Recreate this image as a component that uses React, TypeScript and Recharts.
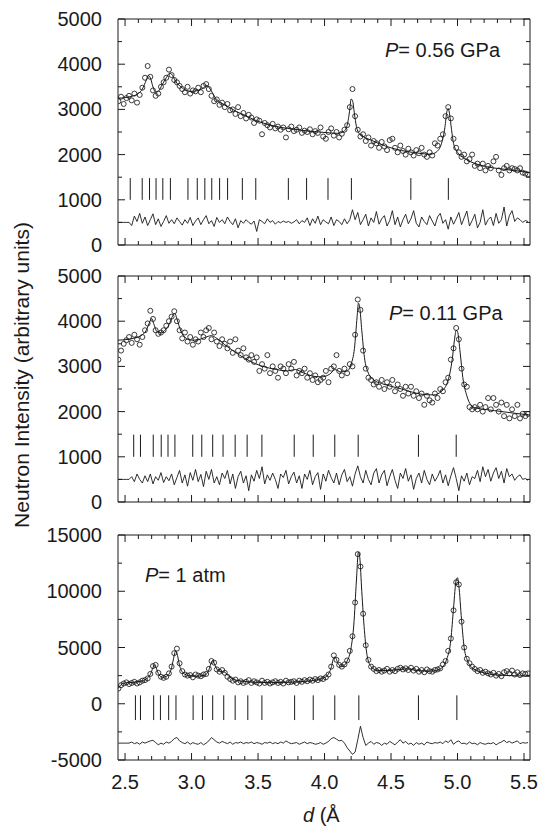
import React from 'react';
import { ComposedChart, Scatter, Line, XAxis, YAxis, ReferenceLine } from 'recharts';

const FONT = '"Liberation Sans", Arial, Helvetica, sans-serif';
const INK = '#1a1a1a';
const X_DOMAIN: [number, number] = [2.447, 5.545];

const xTicks = [2.5, 2.6, 2.7, 2.8, 2.9, 3.0, 3.1, 3.2, 3.3, 3.4, 3.5, 3.6, 3.7, 3.8, 3.9, 4.0,
  4.1, 4.2, 4.3, 4.4, 4.5, 4.6, 4.7, 4.8, 4.9, 5.0, 5.1, 5.2, 5.3, 5.4, 5.5];
const yTicksLow = [0, 500, 1000, 1500, 2000, 2500, 3000, 3500, 4000, 4500, 5000];
const yTicksAtm = [-5000, -2500, 0, 2500, 5000, 7500, 10000, 12500, 15000];

// d-spacing grid of observed points (Å)
const dObs = [
  2.45, 2.47, 2.49, 2.51, 2.53, 2.55, 2.57, 2.59, 2.61, 2.63,
  2.65, 2.67, 2.69, 2.71, 2.73, 2.75, 2.77, 2.79, 2.81, 2.83,
  2.85, 2.87, 2.89, 2.91, 2.93, 2.95, 2.97, 2.99, 3.01, 3.03,
  3.05, 3.07, 3.09, 3.11, 3.13, 3.15, 3.17, 3.19, 3.21, 3.23,
  3.25, 3.27, 3.29, 3.31, 3.33, 3.35, 3.37, 3.39, 3.41, 3.43,
  3.45, 3.47, 3.49, 3.51, 3.53, 3.55, 3.57, 3.59, 3.61, 3.63,
  3.65, 3.67, 3.69, 3.71, 3.73, 3.75, 3.77, 3.79, 3.81, 3.83,
  3.85, 3.87, 3.89, 3.91, 3.93, 3.95, 3.97, 3.99, 4.01, 4.03,
  4.05, 4.07, 4.09, 4.11, 4.13, 4.15, 4.17, 4.19, 4.21, 4.23,
  4.25, 4.27, 4.29, 4.31, 4.33, 4.35, 4.37, 4.39, 4.41, 4.43,
  4.45, 4.47, 4.49, 4.51, 4.53, 4.55, 4.57, 4.59, 4.61, 4.63,
  4.65, 4.67, 4.69, 4.71, 4.73, 4.75, 4.77, 4.79, 4.81, 4.83,
  4.85, 4.87, 4.89, 4.91, 4.93, 4.95, 4.97, 4.99, 5.01, 5.03,
  5.05, 5.07, 5.09, 5.11, 5.13, 5.15, 5.17, 5.19, 5.21, 5.23,
  5.25, 5.27, 5.29, 5.31, 5.33, 5.35, 5.37, 5.39, 5.41, 5.43,
  5.45, 5.47, 5.49, 5.51, 5.53,
];

// ---------- P = 0.56 GPa ----------
const obs056 = [
  3180, 3280, 3120, 3250, 3300, 3200, 3350, 3150, 3320, 3480,
  3700, 3960, 3720, 3420, 3300, 3350, 3500, 3600, 3700, 3880,
  3760, 3650, 3600, 3520, 3450, 3380, 3500, 3350, 3420, 3400,
  3480, 3380, 3520, 3560, 3450, 3300, 3180, 3220, 3100, 3150,
  3050, 3120, 2980, 3000, 2900, 3050, 2850, 2920, 2800, 2880,
  2820, 2700, 2780, 2750, 2450, 2700, 2650, 2600, 2680, 2580,
  2620, 2550, 2600, 2380, 2560, 2620, 2520, 2550, 2600, 2480,
  2530, 2500, 2560, 2450, 2520, 2480, 2600, 2400, 2350, 2500,
  2580, 2420, 2500, 2380, 2460, 2550, 2650, 3050, 3450, 2850,
  2550, 2400, 2450, 2300, 2380, 2200, 2300, 2250, 2150, 2280,
  2180, 2100, 2320, 2350, 2150, 2050, 2200, 2080, 2000, 2130,
  2050, 1980, 2100, 2030, 2150, 2000, 1950, 2050, 1980, 2250,
  2200, 2350, 2450, 2850, 3050, 2800, 2350, 2150, 2050, 1950,
  2000, 1850, 1900, 2000, 1750, 1800, 1700, 1800, 1650, 1750,
  1700, 1850, 1950, 1650, 1550, 1700, 1750, 1650, 1700, 1680,
  1650, 1700, 1600, 1580, 1560,
];
const diff056 = [
  500, 500, 500, 500, 500, 430, 640, 520, 700, 480,
  620, 430, 560, 690, 450, 580, 410, 520, 650, 480,
  560, 470, 600, 520, 440, 560, 480, 610, 430, 530,
  600, 450, 560, 650, 470, 540, 410, 610, 500, 560,
  470, 620, 520, 450, 580, 380, 540, 480, 560, 500,
  460, 530, 300, 560, 520, 470, 580, 500, 540, 460,
  520, 490, 530, 500, 520, 480, 510, 560, 470, 540,
  500, 600, 430, 580, 480, 640, 450, 560, 510, 470,
  620, 430, 560, 520, 450, 580, 470, 560, 780, 560,
  720, 450, 560, 680, 420, 600, 500, 740, 460, 580,
  650, 420, 540, 760, 450, 620, 400, 560, 680, 470,
  580, 760, 480, 400, 620, 520, 450, 650, 530, 420,
  620, 700, 480, 560, 350, 620, 460, 580, 720, 450,
  600, 750, 420, 540, 680, 380, 500, 780, 440, 560,
  620, 430, 700, 480, 560, 840, 420, 650, 760, 520,
  600, 560, 500, 540, 520,
];
const calc056: [number, number][] = [
  [2.447, 3250], [2.5, 3260], [2.55, 3290], [2.6, 3350], [2.63, 3450], [2.66, 3650], [2.675, 3750],
  [2.69, 3700], [2.71, 3500], [2.73, 3380], [2.75, 3400], [2.78, 3550], [2.81, 3700], [2.835, 3800],
  [2.85, 3780], [2.88, 3620], [2.92, 3500], [2.96, 3420], [3.0, 3400], [3.05, 3420], [3.09, 3480],
  [3.115, 3530], [3.14, 3450], [3.18, 3250], [3.22, 3150], [3.28, 3050], [3.34, 2950], [3.4, 2870],
  [3.48, 2760], [3.56, 2680], [3.64, 2620], [3.72, 2580], [3.8, 2550], [3.88, 2520], [3.96, 2500],
  [4.04, 2480], [4.1, 2470], [4.14, 2500], [4.17, 2650], [4.19, 3000], [4.2, 3230], [4.21, 3200],
  [4.225, 2900], [4.24, 2620], [4.26, 2470], [4.29, 2400], [4.35, 2320], [4.42, 2230], [4.5, 2150],
  [4.58, 2090], [4.66, 2050], [4.74, 2020], [4.8, 2010], [4.85, 2080], [4.88, 2250], [4.905, 2600],
  [4.92, 2950], [4.93, 3020], [4.94, 2900], [4.955, 2550], [4.97, 2250], [5.0, 2050], [5.05, 1920],
  [5.1, 1840], [5.18, 1760], [5.26, 1710], [5.34, 1680], [5.42, 1650], [5.545, 1600],
];
const refl056 = [2.539, 2.629, 2.684, 2.733, 2.784, 2.841, 2.973, 3.043, 3.1, 3.152, 3.211, 3.271,
  3.382, 3.483, 3.728, 3.865, 4.026, 4.202, 4.649, 4.931];

// ---------- P = 0.11 GPa ----------
const obs011 = [
  3150, 3350, 3500, 3580, 3650, 3520, 3700, 3600, 3480, 3650,
  3800, 3950, 4230, 4050, 3800, 3720, 3750, 3800, 3900, 4000,
  4100, 4220, 4000, 3800, 3620, 3750, 3550, 3650, 3480, 3600,
  3550, 3750, 3650, 3800, 3850, 3600, 3750, 3550, 3450, 3600,
  3500, 3400, 3550, 3300, 3600, 3350, 3250, 3400, 3200, 3150,
  3250, 3100, 3200, 2900, 3050, 2950, 3250, 2850, 3000, 2900,
  2750, 3000, 2950, 2850, 3050, 2950, 3100, 2800, 2900, 2850,
  2950, 2750, 2850, 2700, 2800, 2650, 2700, 2750, 2900, 2650,
  2950, 3000, 3250, 2900, 2800, 2950, 2850, 3050, 3000, 3700,
  4480, 4250, 3350, 2950, 2750, 2700, 2600, 2650, 2550, 2700,
  2500, 2650, 2550, 2700, 2450, 2600, 2500, 2350, 2550, 2400,
  2550, 2350, 2450, 2300, 2400, 2150, 2350, 2250, 2200, 2400,
  2300, 2500, 2450, 2650, 2750, 3150, 3400, 3850, 3600, 2950,
  2600, 2550, 2100, 2050, 2100, 2050, 2150, 2000, 2100, 2300,
  2050, 2300, 2150, 2000, 2200, 1900, 2150, 1850, 2050, 1900,
  2150, 1850, 1950, 1900, 1950,
];
const diff011 = [
  500, 500, 500, 500, 500, 560, 450, 620, 500, 420,
  580, 450, 620, 400, 560, 480, 650, 430, 560, 470,
  620, 380, 540, 700, 420, 600, 350, 650, 480, 720,
  450, 610, 340, 680, 500, 720, 420, 560, 380, 640,
  520, 700, 400, 620, 300, 560, 680, 420, 580, 250,
  600, 460, 700, 520, 780, 400, 600, 480, 640, 500,
  300, 620, 540, 700, 400, 560, 660, 420, 580, 300,
  620, 500, 700, 380, 560, 650, 280, 620, 460, 700,
  540, 420, 640, 380, 600, 720, 450, 560, 350, 620,
  800, 560, 420, 700, 500, 380, 640, 740, 420, 600,
  700, 360, 560, 720, 480, 300, 640, 520, 740, 460,
  600, 280, 520, 640, 420, 700, 500, 380, 620, 460,
  560, 700, 420, 600, 360, 580, 760, 520, 250, 580,
  460, 640, 380, 560, 520, 700, 450, 780, 560, 720,
  460, 640, 760, 520, 680, 420, 740, 560, 620, 480,
  560, 600, 500, 520, 480,
];
const calc011: [number, number][] = [
  [2.447, 3580], [2.5, 3590], [2.56, 3620], [2.62, 3680], [2.66, 3800], [2.685, 3980], [2.7, 4060],
  [2.715, 3950], [2.74, 3770], [2.77, 3740], [2.8, 3800], [2.83, 3920], [2.86, 4130], [2.875, 4170],
  [2.89, 4050], [2.92, 3780], [2.96, 3620], [3.0, 3580], [3.05, 3590], [3.1, 3640], [3.15, 3680],
  [3.19, 3620], [3.25, 3480], [3.32, 3330], [3.4, 3180], [3.48, 3060], [3.56, 2980], [3.64, 2930],
  [3.72, 2900], [3.78, 2930], [3.84, 2860], [3.92, 2780], [3.98, 2770], [4.04, 2830], [4.08, 2930],
  [4.12, 2880], [4.17, 2900], [4.2, 3050], [4.225, 3400], [4.245, 4100], [4.255, 4400], [4.265, 4300],
  [4.28, 3800], [4.3, 3200], [4.33, 2850], [4.37, 2700], [4.43, 2620], [4.5, 2560], [4.58, 2500],
  [4.66, 2430], [4.74, 2380], [4.82, 2370], [4.88, 2450], [4.93, 2700], [4.96, 3150], [4.98, 3650],
  [4.99, 3800], [5.0, 3770], [5.02, 3300], [5.04, 2750], [5.07, 2350], [5.1, 2150], [5.14, 2080],
  [5.2, 2050], [5.28, 2020], [5.36, 1990], [5.44, 1960], [5.545, 1925],
];
const refl011 = [2.565, 2.616, 2.712, 2.772, 2.823, 2.875, 3.009, 3.077, 3.159, 3.237, 3.328, 3.418,
  3.529, 3.772, 3.915, 4.077, 4.253, 4.706, 4.99];

// ---------- P = 1 atm ----------
const obsAtm = [
  1350, 1650, 1800, 1900, 1750, 1850, 1950, 1800, 1900, 2050,
  2100, 2250, 2650, 3350, 3450, 2750, 2400, 2300, 2400, 2700,
  3300, 4500, 4900, 3600, 2900, 2600, 2500, 2550, 2350, 2600,
  2500, 2450, 2600, 2650, 3100, 3800, 3650, 3050, 2850, 3000,
  2750, 2400, 2200, 2050, 2150, 1900, 2000, 1850, 1950, 2100,
  1850, 2000, 1900, 1800, 2050, 1850, 1950, 1800, 1900, 2000,
  1850, 1950, 1800, 2050, 1900, 1950, 2000, 1850, 2050, 1950,
  2100, 2000, 2150, 2050, 2200, 2100, 2250, 2200, 2350, 2600,
  3300, 4300, 3900, 3450, 3300, 3500, 3850, 4700, 6000, 9000,
  13300, 12200, 8000, 5200, 3900, 3300, 3100, 2900, 3000, 2850,
  2950, 3100, 2850, 3000, 2900, 3100, 3200, 3050, 3150, 3000,
  3200, 2950, 3100, 2850, 3000, 2800, 3050, 2900, 2850, 3000,
  3050, 3150, 3500, 3800, 4700, 5800, 8300, 10800, 10600, 7300,
  5000, 4000, 3600, 3300, 3100, 2900, 3000, 2750, 2850, 2700,
  2600, 2750, 2500, 2650, 2450, 2800, 2900, 2700, 2950, 2600,
  2800, 2550, 2700, 2650, 2700,
];
const diffAtm = [
  -3500, -3500, -3500, -3500, -3500, -3400, -3550, -3450, -3600, -3400,
  -3500, -3400, -3300, -3250, -3450, -3650, -3500, -3600, -3400, -3500,
  -3350, -3100, -3000, -3300, -3450, -3550, -3400, -3600, -3450, -3550,
  -3600, -3450, -3650, -3500, -3300, -3000, -3200, -3400, -3500, -3350,
  -3450, -3550, -3400, -3600, -3450, -3500, -3400, -3550, -3450, -3500,
  -3400, -3550, -3450, -3500, -3600, -3450, -3500, -3400, -3550, -3450,
  -3550, -3400, -3500, -3300, -3450, -3550, -3500, -3450, -3600, -3500,
  -3400, -3550, -3450, -3500, -3600, -3550, -3450, -3600, -3500, -3350,
  -3100, -3000, -3150, -3300, -3250, -3500, -3900, -4200, -4500, -4300,
  -3200, -2000, -3000, -3700, -3500, -3350, -3600, -3450, -3500, -3700,
  -3500, -3600, -3350, -3500, -3650, -3400, -3200, -3500, -3350, -3600,
  -3500, -3700, -3450, -3600, -3500, -3650, -3400, -3500, -3550, -3450,
  -3500, -3400, -3550, -3300, -3450, -3200, -3600, -3400, -3300, -3550,
  -3500, -3600, -3400, -3550, -3500, -3650, -3450, -3550, -3600, -3500,
  -3550, -3450, -3650, -3500, -3400, -3250, -3450, -3350, -3500, -3400,
  -3300, -3550, -3450, -3500, -3450,
];
const calcAtm: [number, number][] = [
  [2.447, 1350], [2.47, 1700], [2.5, 1850], [2.56, 1900], [2.62, 2000], [2.66, 2200], [2.69, 2600],
  [2.71, 3200], [2.72, 3450], [2.73, 3300], [2.75, 2700], [2.78, 2350], [2.82, 2500], [2.85, 3200],
  [2.87, 4300], [2.88, 4700], [2.89, 4500], [2.91, 3400], [2.94, 2700], [2.98, 2500], [3.04, 2450],
  [3.1, 2550], [3.13, 3000], [3.15, 3700], [3.16, 3850], [3.17, 3600], [3.2, 2950], [3.23, 2850],
  [3.25, 2800], [3.28, 2450], [3.32, 2150], [3.4, 1980], [3.5, 1900], [3.6, 1880], [3.7, 1900],
  [3.8, 1950], [3.9, 2050], [3.97, 2200], [4.02, 2500], [4.05, 3200], [4.07, 4100], [4.08, 4150],
  [4.1, 3600], [4.13, 3300], [4.17, 3800], [4.2, 5000], [4.22, 7000], [4.24, 11000], [4.255, 13500],
  [4.265, 13000], [4.28, 10000], [4.3, 6500], [4.32, 4300], [4.35, 3300], [4.4, 2950], [4.48, 2950],
  [4.56, 3050], [4.62, 3100], [4.7, 2950], [4.8, 2900], [4.87, 3100], [4.92, 4000], [4.95, 5700],
  [4.97, 8500], [4.99, 11000], [5.0, 11200], [5.01, 10500], [5.03, 7500], [5.05, 5000], [5.08, 3700],
  [5.12, 3100], [5.2, 2750], [5.3, 2550], [5.4, 2500], [5.545, 2450],
];
const reflAtm = [2.578, 2.616, 2.715, 2.766, 2.828, 2.883, 3.012, 3.082, 3.159, 3.242, 3.328, 3.423,
  3.529, 3.775, 3.915, 4.077, 4.258, 4.706, 4.995];

const isMultiple = (v: number, step: number) => Math.abs(v / step - Math.round(v / step)) < 1e-6;

function BottomTick(props: any) {
  const { x, y, payload, showLabel } = props;
  const v = payload.value as number;
  const major = isMultiple(v, 0.5);
  const len = major ? 7 : 4;
  return (
    <g>
      <line x1={x} x2={x} y1={y} y2={y - len} stroke={INK} strokeWidth={1} />
      {showLabel && major ? (
        <text x={x} y={y + 29} textAnchor="middle" fontSize={20} fontFamily={FONT} fill={INK}>
          {v.toFixed(1)}
        </text>
      ) : null}
    </g>
  );
}

function TopTick(props: any) {
  const { x, y, payload } = props;
  const v = payload.value as number;
  const len = isMultiple(v, 0.5) ? 7 : 4;
  return <line x1={x} x2={x} y1={y} y2={y + len} stroke={INK} strokeWidth={1} />;
}

function LeftTick(props: any) {
  const { x, y, payload, labelStep } = props;
  const v = payload.value as number;
  const major = isMultiple(v, labelStep);
  const len = major ? 7 : 4;
  return (
    <g>
      <line x1={x} x2={x + len} y1={y} y2={y} stroke={INK} strokeWidth={1} />
      {major ? (
        <text x={x - 16} y={y + 7} textAnchor="end" fontSize={20} fontFamily={FONT} fill={INK}>
          {String(v)}
        </text>
      ) : null}
    </g>
  );
}

function RightTick(props: any) {
  const { x, y, payload, labelStep } = props;
  const v = payload.value as number;
  const len = isMultiple(v, labelStep) ? 7 : 4;
  return <line x1={x} x2={x - len} y1={y} y2={y} stroke={INK} strokeWidth={1} />;
}

const OpenCircle = (props: any) => (
  <circle cx={props.cx} cy={props.cy} r={2.5} fill="none" stroke={INK} strokeWidth={0.85} />
);

type PanelProps = {
  top: number;
  height: number;
  topH: number;
  botH: number;
  yDomain: [number, number];
  yTicks: number[];
  labelStep: number;
  obs: number[];
  diff: number[];
  calc: [number, number][];
  refl: number[];
  reflLo: number;
  reflHi: number;
  showX: boolean;
};

function Panel(p: PanelProps) {
  const obsData = dObs.map((d, i) => ({ d, v: p.obs[i] }));
  const diffData = dObs.map((d, i) => ({ d, v: p.diff[i] }));
  const calcData = p.calc.map(([d, v]) => ({ d, v }));
  return (
    <div style={{ position: 'absolute', left: 0, top: p.top, width: 540, height: p.height }}>
      <ComposedChart width={540} height={p.height} margin={{ top: 0, right: 0, bottom: 0, left: 0 }}>
        <XAxis
          xAxisId="b"
          dataKey="d"
          type="number"
          orientation="bottom"
          domain={X_DOMAIN}
          allowDataOverflow
          ticks={xTicks}
          interval={0}
          height={p.botH}
          tickSize={0}
          tickMargin={0}
          tickLine={false}
          axisLine={{ stroke: INK, strokeWidth: 1 }}
          tick={(tp: any) => <BottomTick {...tp} showLabel={p.showX} />}
        />
        <XAxis
          xAxisId="t"
          dataKey="d"
          type="number"
          orientation="top"
          domain={X_DOMAIN}
          allowDataOverflow
          ticks={xTicks}
          interval={0}
          height={p.topH}
          tickSize={0}
          tickMargin={0}
          tickLine={false}
          axisLine={{ stroke: INK, strokeWidth: 1 }}
          tick={(tp: any) => <TopTick {...tp} />}
        />
        <YAxis
          yAxisId="l"
          type="number"
          orientation="left"
          domain={p.yDomain}
          allowDataOverflow
          ticks={p.yTicks}
          interval={0}
          width={118}
          tickSize={0}
          tickMargin={0}
          tickLine={false}
          axisLine={{ stroke: INK, strokeWidth: 1 }}
          tick={(tp: any) => <LeftTick {...tp} labelStep={p.labelStep} />}
        />
        <YAxis
          yAxisId="r"
          type="number"
          orientation="right"
          domain={p.yDomain}
          allowDataOverflow
          ticks={p.yTicks}
          interval={0}
          width={10}
          tickSize={0}
          tickMargin={0}
          tickLine={false}
          axisLine={{ stroke: INK, strokeWidth: 1 }}
          tick={(tp: any) => <RightTick {...tp} labelStep={p.labelStep} />}
        />
        {p.refl.map((d) => (
          <ReferenceLine
            key={d}
            xAxisId="b"
            yAxisId="l"
            segment={[{ x: d, y: p.reflLo }, { x: d, y: p.reflHi }]}
            stroke={INK}
            strokeWidth={1}
          />
        ))}
        <Line
          data={diffData}
          xAxisId="b"
          yAxisId="l"
          dataKey="v"
          type="linear"
          stroke={INK}
          strokeWidth={0.9}
          dot={false}
          activeDot={false}
          isAnimationActive={false}
        />
        <Line
          data={calcData}
          xAxisId="b"
          yAxisId="l"
          dataKey="v"
          type="monotone"
          stroke={INK}
          strokeWidth={1}
          dot={false}
          activeDot={false}
          isAnimationActive={false}
        />
        <Scatter
          data={obsData}
          xAxisId="b"
          yAxisId="l"
          dataKey="v"
          shape={OpenCircle}
          isAnimationActive={false}
        />
      </ComposedChart>
    </div>
  );
}

export default function App() {
  return (
    <div
      style={{
        position: 'absolute',
        left: 0,
        top: 0,
        width: 540,
        height: 827,
        background: '#ffffff',
        fontFamily: FONT,
        overflow: 'hidden',
      }}
    >
      <Panel
        top={0}
        height={260}
        topH={19}
        botH={15}
        yDomain={[0, 5000]}
        yTicks={yTicksLow}
        labelStep={1000}
        obs={obs056}
        diff={diff056}
        calc={calc056}
        refl={refl056}
        reflLo={1000}
        reflHi={1480}
        showX={false}
      />
      <Panel
        top={260}
        height={255}
        topH={16}
        botH={13}
        yDomain={[0, 5000]}
        yTicks={yTicksLow}
        labelStep={1000}
        obs={obs011}
        diff={diff011}
        calc={calc011}
        refl={refl011}
        reflLo={1000}
        reflHi={1490}
        showX={false}
      />
      <Panel
        top={515}
        height={312}
        topH={20}
        botH={67}
        yDomain={[-5000, 15000]}
        yTicks={yTicksAtm}
        labelStep={5000}
        obs={obsAtm}
        diff={diffAtm}
        calc={calcAtm}
        refl={reflAtm}
        reflLo={-1450}
        reflHi={750}
        showX={true}
      />
      <svg
        width={540}
        height={827}
        style={{ position: 'absolute', left: 0, top: 0, pointerEvents: 'none' }}
      >
        <text
          transform="translate(29,375) rotate(-90)"
          textAnchor="middle"
          fontSize={21}
          fontFamily={FONT}
          fill={INK}
        >
          Neutron Intensity (arbitrary units)
        </text>
        <text x={303} y={822} fontSize={20} fontFamily={FONT} fill={INK}>
          <tspan fontStyle="italic">d</tspan> (Å
        </text>
        <text x={385} y={57} fontSize={20} fontFamily={FONT} fill={INK}>
          <tspan fontStyle="italic">P</tspan>= 0.56 GPa
        </text>
        <text x={389} y={320} fontSize={20} fontFamily={FONT} fill={INK}>
          <tspan fontStyle="italic">P</tspan>= 0.11 GPa
        </text>
        <text x={145} y={582} fontSize={20} fontFamily={FONT} fill={INK}>
          <tspan fontStyle="italic">P</tspan>= 1 atm
        </text>
      </svg>
    </div>
  );
}
